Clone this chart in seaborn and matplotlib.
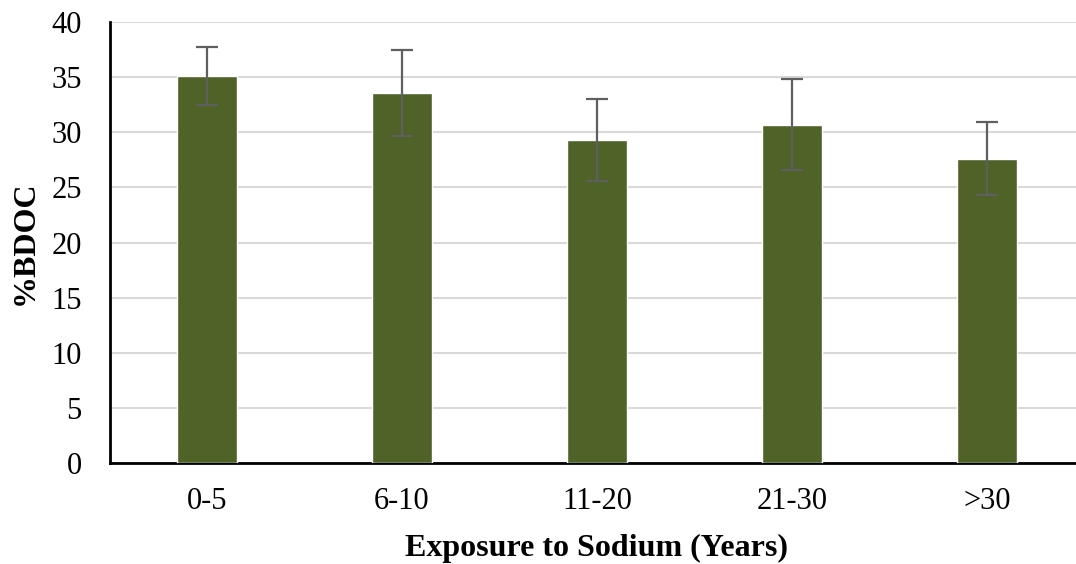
import pandas as pd
import matplotlib
matplotlib.use("Agg")
import matplotlib.pyplot as plt
import seaborn as sns

# Data
categories = ['0-5', '6-10', '11-20', '21-30', '>30']
bdoc_mean = [35.1, 33.6, 29.3, 30.7, 27.6]
bdoc_err = [2.6, 3.9, 3.7, 4.1, 3.3]

df = pd.DataFrame({'Exposure': categories, 'BDOC': bdoc_mean})

sns.set_style("white")
plt.rcParams['font.family'] = ['Liberation Serif', 'DejaVu Serif']
plt.rcParams['text.color'] = 'black'
plt.rcParams['axes.labelcolor'] = 'black'

fig = plt.figure(figsize=(10.76, 5.64), dpi=100)
ax = fig.add_axes([0.1018, 0.179, 0.906, 0.782])

sns.barplot(data=df, x='Exposure', y='BDOC', color='#4f6228', saturation=1,
            width=0.31, errorbar=None, ax=ax, zorder=3)
ax.errorbar(range(len(categories)), bdoc_mean, yerr=bdoc_err, fmt='none',
            ecolor='#5f5f5f', elinewidth=1.6, capsize=8, capthick=1.6, zorder=4)

ax.set_ylim(0, 40)
ax.set_xlim(-0.5, 4.5)
ax.set_yticks(range(0, 41, 5))
ax.yaxis.grid(True, color='#d9d9d9', linewidth=1.5, zorder=0)
ax.set_axisbelow(True)

for s in ['top', 'right']:
    ax.spines[s].set_visible(False)
for s in ['left', 'bottom']:
    ax.spines[s].set_color('black')
    ax.spines[s].set_linewidth(2)

ax.tick_params(axis='both', length=0, labelsize=22, colors='black')
ax.tick_params(axis='y', pad=20)
ax.tick_params(axis='x', pad=17)
ax.set_xlabel('Exposure to Sodium (Years)', fontsize=23, fontweight='bold', labelpad=13)
ax.set_ylabel('%BDOC', fontsize=23, fontweight='bold', labelpad=8)

fig.savefig('out.png', dpi=100)
